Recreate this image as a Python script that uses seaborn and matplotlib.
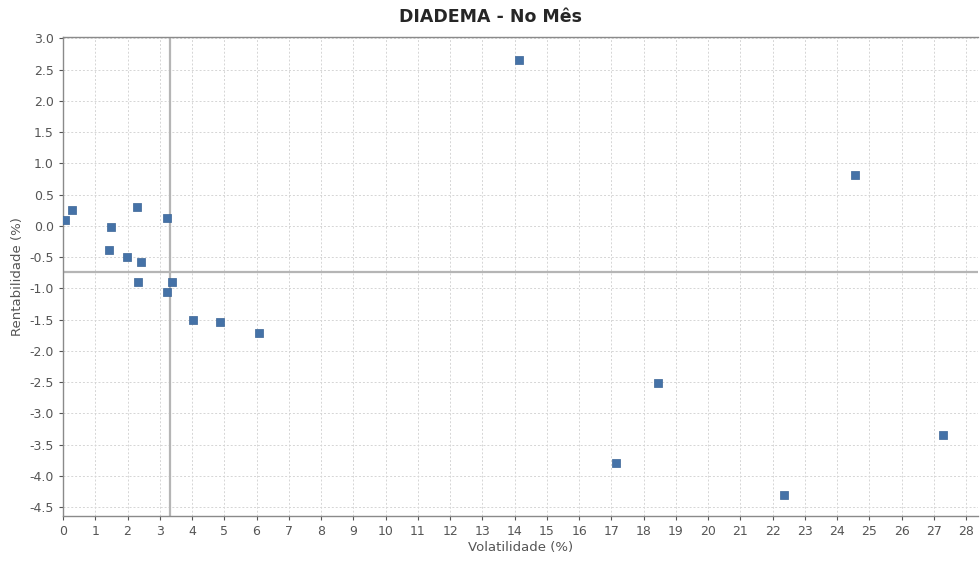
import pandas as pd
import matplotlib
matplotlib.use("Agg")
import matplotlib.pyplot as plt
import seaborn as sns
import numpy as np

# volatilidade x rentabilidade (%)
volatilidade = [0.06, 0.28, 1.49, 1.43, 2.29, 1.98, 2.42, 2.33, 3.22, 3.38,
                3.22, 4.03, 4.87, 6.08, 14.14, 17.15, 18.45, 22.36, 24.56, 27.29]
rentabilidade = [0.10, 0.26, -0.01, -0.38, 0.30, -0.50, -0.58, -0.90, 0.12, -0.89,
                 -1.06, -1.50, -1.53, -1.72, 2.66, -3.80, -2.52, -4.30, 0.81, -3.35]
ref_vol = 3.32
ref_rent = -0.73

df = pd.DataFrame({"Volatilidade": volatilidade, "Rentabilidade": rentabilidade})

sns.set_style("white")
fig = plt.figure(figsize=(9.8, 5.63), dpi=100)
ax = fig.add_axes([0.0643, 0.0835, 0.9337, 0.8505])

sns.scatterplot(x="Volatilidade", y="Rentabilidade", data=df, ax=ax,
                marker="s", s=38, color="#4572a7", edgecolor="#3a6496",
                linewidth=0.5, zorder=3)

# linhas de referencia
ax.axvline(ref_vol, color="#b5b5b5", lw=1.6, zorder=2)
ax.axhline(ref_rent, color="#b5b5b5", lw=1.6, zorder=2)

ax.set_xlim(0, 28.37)
ax.set_ylim(-4.64, 3.02)
ax.set_xticks(np.arange(0, 29, 1))
ax.set_yticks(np.arange(-4.5, 3.01, 0.5))
ax.set_yticklabels([f"{v:.1f}" for v in np.arange(-4.5, 3.01, 0.5)])

ax.grid(True, color="#d5d5d5", linestyle=(0, (2, 2)), lw=0.7, zorder=0)
for s in ax.spines.values():
    s.set_color("#8a8a8a")
    s.set_linewidth(1.0)
ax.spines["right"].set_visible(False)

ax.tick_params(axis="both", labelsize=9, colors="#555555", length=3,
               width=0.8, direction="out", left=True, bottom=True)
ax.set_xlabel("Volatilidade (%)", fontsize=9.5, color="#555555", labelpad=2)
ax.set_ylabel("Rentabilidade (%)", fontsize=9.5, color="#555555", labelpad=4)
fig.suptitle("DIADEMA - No Mês", fontsize=12.5, fontweight="bold", y=0.985)

fig.savefig("out.png", dpi=100)
